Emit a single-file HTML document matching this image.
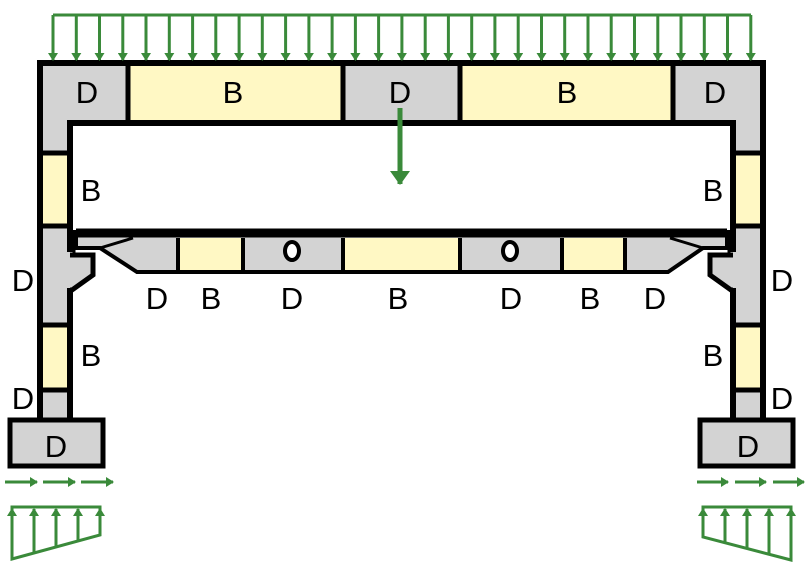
<!DOCTYPE html>
<html><head><meta charset="utf-8"><style>
html,body{margin:0;padding:0;background:#fff}
svg{display:block}
text{font-family:"Liberation Sans",sans-serif;font-size:31px;fill:#000;text-anchor:middle}
</style></head><body>
<svg width="811" height="566" viewBox="0 0 811 566" xmlns="http://www.w3.org/2000/svg">
<defs>
<marker id="ah" markerWidth="8" markerHeight="10" refX="7" refY="5" orient="auto" markerUnits="userSpaceOnUse"><path d="M0,0 L8,5 L0,10 z" fill="#3a8a3a"/></marker>
<marker id="bh" markerWidth="14" markerHeight="20" refX="13" refY="10" orient="auto" markerUnits="userSpaceOnUse"><path d="M0,0 L14,10 L0,20 z" fill="#3a8a3a"/></marker>
</defs>
<rect x="40" y="63" width="88" height="60" fill="#d3d3d3"/>
<rect x="128" y="63" width="215" height="60" fill="#fff8c4"/>
<rect x="343" y="63" width="117" height="60" fill="#d3d3d3"/>
<rect x="460" y="63" width="213" height="60" fill="#fff8c4"/>
<rect x="673" y="63" width="90" height="60" fill="#d3d3d3"/>
<rect x="40" y="123" width="30" height="297" fill="#d3d3d3"/>
<rect x="733" y="123" width="30" height="297" fill="#d3d3d3"/>
<rect x="40" y="153" width="30" height="73" fill="#fff8c4"/>
<rect x="733" y="153" width="30" height="73" fill="#fff8c4"/>
<rect x="40" y="325" width="30" height="65" fill="#fff8c4"/>
<rect x="733" y="325" width="30" height="65" fill="#fff8c4"/>
<g stroke="#000" stroke-width="5">
<line x1="40" y1="153" x2="70" y2="153"/><line x1="40" y1="226" x2="70" y2="226"/>
<line x1="40" y1="325" x2="70" y2="325"/><line x1="40" y1="390" x2="70" y2="390"/>
<line x1="733" y1="153" x2="763" y2="153"/><line x1="733" y1="226" x2="763" y2="226"/>
<line x1="733" y1="325" x2="763" y2="325"/><line x1="733" y1="390" x2="763" y2="390"/>
<line x1="128" y1="63" x2="128" y2="123"/><line x1="343" y1="63" x2="343" y2="123"/>
<line x1="460" y1="63" x2="460" y2="123"/><line x1="673" y1="63" x2="673" y2="123"/>
</g>
<!-- corbels -->
<path d="M68,255 L93,255 L93,275 L72,290 L68,290 Z" fill="#d3d3d3"/>
<path d="M735,255 L710,255 L710,275 L731,290 L735,290 Z" fill="#d3d3d3"/>
<g fill="none" stroke="#000" stroke-width="5">
<path d="M70,255 L93,255 L93,275 L72,290 L70,290"/>
<path d="M733,255 L710,255 L710,275 L731,290 L733,290"/>
</g>
<path d="M40,420 L40,63 L763,63 L763,420 M70,252 L70,123 L733,123 L733,252 M70,288 L70,420 M733,288 L733,420" fill="none" stroke="#000" stroke-width="6"/>
<!-- lower beam -->
<path d="M76,232 L727,232 L727,248 L703,248 L668,272 L137,272 L100,248 L76,248 Z" fill="#d3d3d3" stroke="#000" stroke-width="4"/>
<rect x="178" y="238" width="65" height="34" fill="#fff8c4"/>
<rect x="343" y="238" width="117" height="34" fill="#fff8c4"/>
<rect x="562" y="238" width="63" height="34" fill="#fff8c4"/>
<g stroke="#000" stroke-width="4" fill="none">
<line x1="76" y1="233" x2="727" y2="233" stroke-width="9"/>
<line x1="137" y1="272" x2="668" y2="272"/>
<line x1="178" y1="238" x2="178" y2="272"/><line x1="243" y1="238" x2="243" y2="272"/>
<line x1="343" y1="238" x2="343" y2="272"/><line x1="460" y1="238" x2="460" y2="272"/>
<line x1="562" y1="238" x2="562" y2="272"/><line x1="625" y1="238" x2="625" y2="272"/>
<path d="M100,248 L133,238 M703,248 L670,238" stroke-width="3"/>
<path d="M74,230 L74,255 L80,255 M729,230 L729,255 L723,255" stroke-width="3"/>
</g>
<ellipse cx="292" cy="251" rx="7" ry="9" fill="#fff" stroke="#000" stroke-width="4"/>
<ellipse cx="510" cy="251" rx="7" ry="9" fill="#fff" stroke="#000" stroke-width="4"/>
<rect x="10" y="420" width="93" height="46" fill="#d3d3d3" stroke="#000" stroke-width="5"/>
<rect x="700" y="420" width="93" height="46" fill="#d3d3d3" stroke="#000" stroke-width="5"/>
<text x="87" y="103">D</text><text x="233" y="103">B</text><text x="400" y="103">D</text><text x="567" y="103">B</text><text x="715" y="103">D</text>
<text x="91" y="201">B</text><text x="713" y="201">B</text>
<text x="157" y="309">D</text><text x="211" y="309">B</text><text x="292" y="309">D</text><text x="398" y="309">B</text><text x="511" y="309">D</text><text x="590" y="309">B</text><text x="655" y="309">D</text>
<text x="23" y="291">D</text><text x="91" y="366">B</text><text x="23" y="409">D</text><text x="56" y="457">D</text>
<text x="782" y="291">D</text><text x="713" y="366">B</text><text x="782" y="409">D</text><text x="748" y="457">D</text>
<g stroke="#3a8a3a" stroke-width="3" fill="none">
<line x1="53" y1="15" x2="751" y2="15"/>
<line x1="53" y1="15" x2="53" y2="60" marker-end="url(#ah)"/>
<line x1="400" y1="108" x2="400" y2="184" stroke-width="5" marker-end="url(#bh)"/>
<line x1="5" y1="482" x2="37" y2="482" marker-end="url(#ah)"/>
<line x1="43" y1="482" x2="75" y2="482" marker-end="url(#ah)"/>
<line x1="81" y1="482" x2="113" y2="482" marker-end="url(#ah)"/>
<line x1="697" y1="482" x2="728" y2="482" marker-end="url(#ah)"/>
<line x1="735" y1="482" x2="766" y2="482" marker-end="url(#ah)"/>
<line x1="773" y1="482" x2="804" y2="482" marker-end="url(#ah)"/>
<path d="M12,507 L100,507 L100,535 L12,559 Z"/>
<line x1="12" y1="559" x2="12" y2="509" marker-end="url(#ah)"/>
<line x1="34" y1="553" x2="34" y2="509" marker-end="url(#ah)"/>
<line x1="56" y1="547" x2="56" y2="509" marker-end="url(#ah)"/>
<line x1="78" y1="541" x2="78" y2="509" marker-end="url(#ah)"/>
<line x1="100" y1="535" x2="100" y2="509" marker-end="url(#ah)"/>
<path d="M703,507 L791,507 L791,560 L703,537 Z"/>
<line x1="703" y1="537" x2="703" y2="509" marker-end="url(#ah)"/>
<line x1="725" y1="543" x2="725" y2="509" marker-end="url(#ah)"/>
<line x1="747" y1="549" x2="747" y2="509" marker-end="url(#ah)"/>
<line x1="769" y1="554" x2="769" y2="509" marker-end="url(#ah)"/>
<line x1="791" y1="560" x2="791" y2="509" marker-end="url(#ah)"/>
</g>
<g stroke="#3a8a3a" stroke-width="3">
<line x1="76.3" y1="15" x2="76.3" y2="60" marker-end="url(#ah)"/>
<line x1="99.5" y1="15" x2="99.5" y2="60" marker-end="url(#ah)"/>
<line x1="122.8" y1="15" x2="122.8" y2="60" marker-end="url(#ah)"/>
<line x1="146" y1="15" x2="146" y2="60" marker-end="url(#ah)"/>
<line x1="169.3" y1="15" x2="169.3" y2="60" marker-end="url(#ah)"/>
<line x1="192.6" y1="15" x2="192.6" y2="60" marker-end="url(#ah)"/>
<line x1="215.8" y1="15" x2="215.8" y2="60" marker-end="url(#ah)"/>
<line x1="239.1" y1="15" x2="239.1" y2="60" marker-end="url(#ah)"/>
<line x1="262.3" y1="15" x2="262.3" y2="60" marker-end="url(#ah)"/>
<line x1="285.6" y1="15" x2="285.6" y2="60" marker-end="url(#ah)"/>
<line x1="308.9" y1="15" x2="308.9" y2="60" marker-end="url(#ah)"/>
<line x1="332.1" y1="15" x2="332.1" y2="60" marker-end="url(#ah)"/>
<line x1="355.4" y1="15" x2="355.4" y2="60" marker-end="url(#ah)"/>
<line x1="378.6" y1="15" x2="378.6" y2="60" marker-end="url(#ah)"/>
<line x1="401.9" y1="15" x2="401.9" y2="60" marker-end="url(#ah)"/>
<line x1="425.2" y1="15" x2="425.2" y2="60" marker-end="url(#ah)"/>
<line x1="448.4" y1="15" x2="448.4" y2="60" marker-end="url(#ah)"/>
<line x1="471.7" y1="15" x2="471.7" y2="60" marker-end="url(#ah)"/>
<line x1="494.9" y1="15" x2="494.9" y2="60" marker-end="url(#ah)"/>
<line x1="518.2" y1="15" x2="518.2" y2="60" marker-end="url(#ah)"/>
<line x1="541.5" y1="15" x2="541.5" y2="60" marker-end="url(#ah)"/>
<line x1="564.7" y1="15" x2="564.7" y2="60" marker-end="url(#ah)"/>
<line x1="588" y1="15" x2="588" y2="60" marker-end="url(#ah)"/>
<line x1="611.2" y1="15" x2="611.2" y2="60" marker-end="url(#ah)"/>
<line x1="634.5" y1="15" x2="634.5" y2="60" marker-end="url(#ah)"/>
<line x1="657.8" y1="15" x2="657.8" y2="60" marker-end="url(#ah)"/>
<line x1="681" y1="15" x2="681" y2="60" marker-end="url(#ah)"/>
<line x1="704.3" y1="15" x2="704.3" y2="60" marker-end="url(#ah)"/>
<line x1="727.5" y1="15" x2="727.5" y2="60" marker-end="url(#ah)"/>
<line x1="750.8" y1="15" x2="750.8" y2="60" marker-end="url(#ah)"/>
</g>
</svg>
</body></html>
